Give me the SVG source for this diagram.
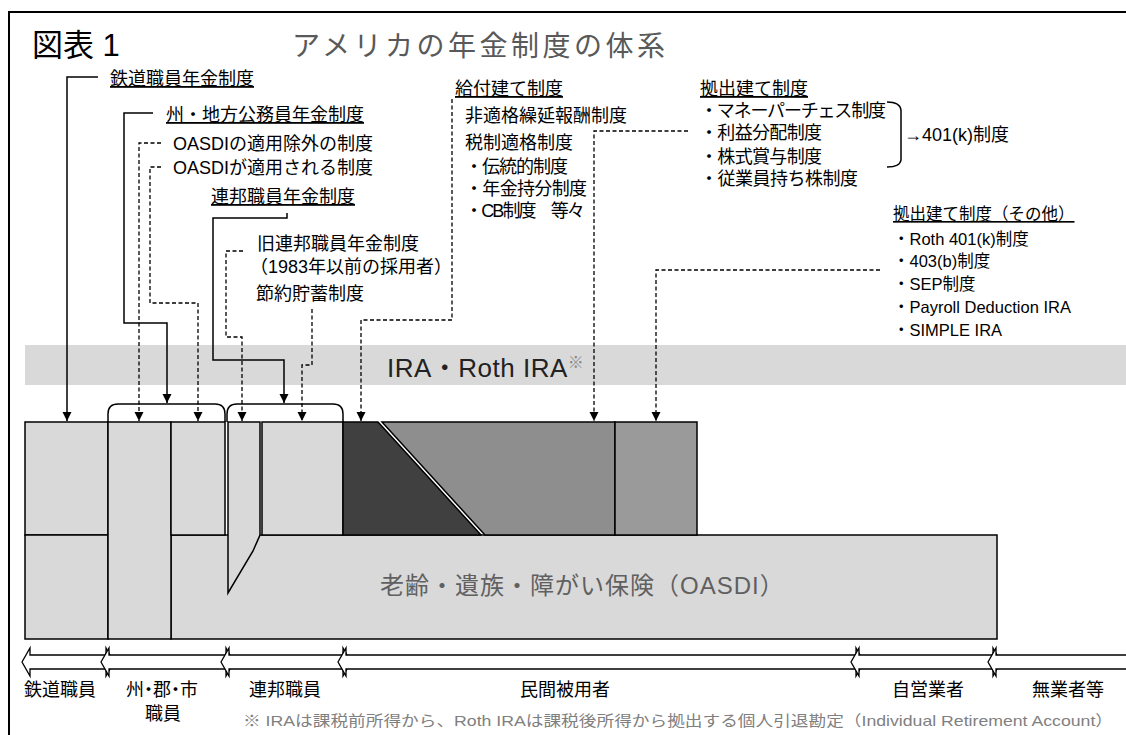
<svg xmlns="http://www.w3.org/2000/svg" width="1126" height="735" viewBox="0 0 1126 735">
<defs>
<marker id="ah" viewBox="0 0 10 10" refX="10" refY="5" markerWidth="9" markerHeight="10" markerUnits="userSpaceOnUse" orient="auto">
<path d="M0,0 L10,5 L0,10 z" fill="#000"/>
</marker>
<style>
.t{font-family:"Liberation Sans","Noto Sans CJK JP",sans-serif;fill:#000}
.m{font-size:18px}
.s{font-size:16.5px}
.u{text-decoration:underline}
.box{fill:#d9d9d9;stroke:#000;stroke-width:1.5}
.sol{fill:none;stroke:#000;stroke-width:1.5;marker-end:url(#ah)}
.das{fill:none;stroke:#000;stroke-width:1.3;stroke-dasharray:4 2.5;marker-end:url(#ah)}
.br{fill:none;stroke:#000;stroke-width:1.5}
.ax{fill:#fff;stroke:#000;stroke-width:1.3}
</style>
</defs>
<rect width="1126" height="735" fill="#fff"/>
<path d="M9,760 V12 H1140" fill="none" stroke="#000" stroke-width="2"/>

<g id="title">
<text class="t" x="32" y="56" font-size="31">図表 1</text>
<text class="t" x="292" y="56" font-size="28" letter-spacing="3.5" style="fill:#595959">アメリカの年金制度の体系</text>
</g>

<g id="ira">
<rect x="25" y="345" width="1110" height="40" fill="#d9d9d9"/>
<text class="t" x="387" y="377" font-size="26" letter-spacing="0.5" style="fill:#222">IRA・Roth IRA<tspan font-size="16" dy="-9" style="fill:#888">※</tspan></text>
</g>

<g id="railroad">
<rect class="box" x="25" y="422" width="83" height="113"/>
<rect class="box" x="25" y="535" width="83" height="104"/>
</g>
<g id="oasdi">
<rect class="box" x="171" y="535" width="826" height="104"/>
<text class="t" x="380" y="594" font-size="24" letter-spacing="1" style="fill:#606060">老齢・遺族・障がい保険（OASDI）</text>
</g>
<g id="state">
<rect class="box" x="108" y="422" width="63" height="217"/>
<rect class="box" x="171" y="422" width="54" height="113"/>
</g>
<g id="federal">
<path class="box" d="M228,422 H260 V535 L253,551 L228,593 Z"/>
<rect class="box" x="262" y="422" width="81" height="113"/>
</g>
<g id="private">
<path d="M343,422 H378 L481,535 H343 Z" fill="#404040" stroke="#000" stroke-width="1.5" stroke-linejoin="round"/>
<path d="M382,422 H615 V535 H485 Z" fill="#8e8e8e" stroke="#000" stroke-width="1.5"/>
<rect x="615" y="422" width="82" height="113" fill="#9a9a9a" stroke="#000" stroke-width="1.5"/>
</g>

<g id="braces">
<path class="br" d="M108,422 V414 Q108,404 118,404 H215 Q225,404 225,414 V422"/>
<path class="br" d="M227,422 V414 Q227,404 237,404 H333 Q343,404 343,414 V422"/>
<path class="br" d="M887,102 Q900,102 901,110 V160 Q900,167 887,167"/>
</g>

<g id="labels-left">
<text class="t m u" x="110" y="85">鉄道職員年金制度</text>
<text class="t m u" x="166" y="121">州・地方公務員年金制度</text>
<text class="t m" x="173" y="150">OASDIの適用除外の制度</text>
<text class="t m" x="173" y="174">OASDIが適用される制度</text>
<text class="t m u" x="211" y="203">連邦職員年金制度</text>
<text class="t m" x="257" y="250">旧連邦職員年金制度</text>
<text class="t m" x="250" y="273">（1983年以前の採用者）</text>
<text class="t m" x="256" y="300">節約貯蓄制度</text>
</g>
<g id="labels-db">
<text class="t m u" x="455" y="95">給付建て制度</text>
<text class="t m" x="465" y="122">非適格繰延報酬制度</text>
<text class="t m" x="465" y="149">税制適格制度</text>
<text class="t m" x="465" y="173" textLength="103">・伝統的制度</text>
<text class="t m" x="465" y="195" textLength="122">・年金持分制度</text>
<text class="t m" x="465" y="217" textLength="120">・CB制度　等々</text>
</g>
<g id="labels-dc">
<text class="t m u" x="700" y="95">拠出建て制度</text>
<text class="t m" x="700" y="117" textLength="186">・マネーパーチェス制度</text>
<text class="t m" x="700" y="139" textLength="122">・利益分配制度</text>
<text class="t m" x="700" y="163" textLength="122">・株式賞与制度</text>
<text class="t m" x="700" y="185" textLength="158">・従業員持ち株制度</text>
<text class="t m" x="904" y="141">→401(k)制度</text>
</g>
<g id="labels-dc-other">
<text class="t s u" x="893" y="220">拠出建て制度（その他）</text>
<text class="t s" x="893" y="245">・Roth 401(k)制度</text>
<text class="t s" x="893" y="267">・403(b)制度</text>
<text class="t s" x="893" y="290">・SEP制度</text>
<text class="t s" x="893" y="313">・Payroll Deduction IRA</text>
<text class="t s" x="893" y="336">・SIMPLE IRA</text>
</g>

<g id="connectors">
<path class="sol" d="M98,77 H67 V421"/>
<path class="sol" d="M153,113 H124 V323 H167 V403"/>
<path class="das" d="M161,143 H139 V421"/>
<path class="das" d="M161,167 H150 V303 H198 V421"/>
<path class="sol" d="M287,213 V218 H213 V360 H284 V403"/>
<path class="das" d="M243,251 H226 V337 H242 V421"/>
<path class="das" d="M312,309 V365 H302 V421"/>
<path class="das" d="M452,99 V320 H361 V421"/>
<path class="das" d="M688,131 H594 V421"/>
<path class="das" d="M880,270 H656 V421"/>
</g>

<g id="axis">
<polygon class="ax" points="22,662 30,648 30,655 106,655 106,648 114,662 106,676 106,669 30,669 30,676"/>
<polygon class="ax" points="101,662 109,648 109,655 226,655 226,648 234,662 226,676 226,669 109,669 109,676"/>
<polygon class="ax" points="221,662 229,648 229,655 343,655 343,648 351,662 343,676 343,669 229,669 229,676"/>
<polygon class="ax" points="338,662 346,648 346,655 856,655 856,648 864,662 856,676 856,669 346,669 346,676"/>
<polygon class="ax" points="851,662 859,648 859,655 993,655 993,648 1001,662 993,676 993,669 859,669 859,676"/>
<polygon class="ax" points="988,662 996,648 996,655 1140,655 1140,669 996,669 996,676"/>
<text class="t m" x="60" y="696" text-anchor="middle">鉄道職員</text>
<text class="t m" x="162" y="696" text-anchor="middle" textLength="72">州・郡・市</text>
<text class="t m" x="163" y="720" text-anchor="middle">職員</text>
<text class="t m" x="285" y="696" text-anchor="middle">連邦職員</text>
<text class="t m" x="565" y="696" text-anchor="middle">民間被用者</text>
<text class="t m" x="928" y="696" text-anchor="middle">自営業者</text>
<text class="t m" x="1068" y="696" text-anchor="middle">無業者等</text>
</g>
<g id="footnote">
<text class="t" x="243" y="726" font-size="15" textLength="870" lengthAdjust="spacingAndGlyphs" style="fill:#808080">※ IRAは課税前所得から、Roth IRAは課税後所得から拠出する個人引退勘定（Individual Retirement Account）</text>
</g>
</svg>
